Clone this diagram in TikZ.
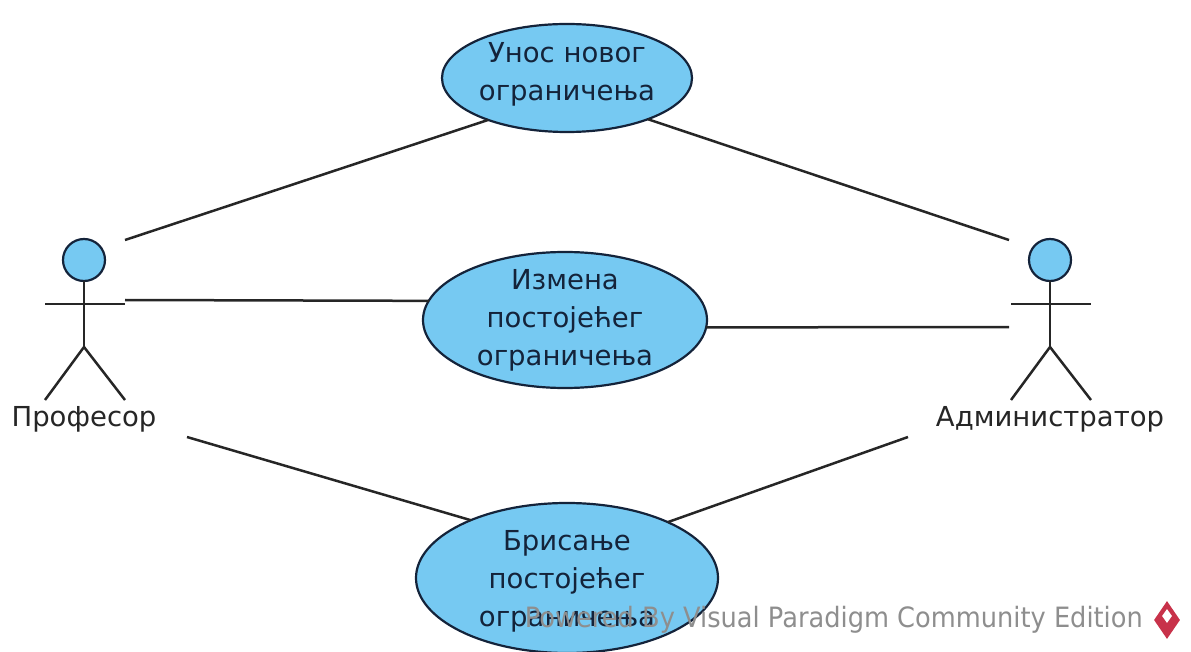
\documentclass[tikz,border=0pt]{standalone}
\usepackage{fontspec}
\setmainfont{DejaVu Sans}
\usetikzlibrary{shapes.geometric}
\definecolor{ucfill}{HTML}{76C9F2}
\definecolor{ucline}{HTML}{14233A}
\definecolor{wmgrey}{HTML}{8E8E8E}
\definecolor{wmred}{HTML}{C8324A}
\tikzset{
  usecase/.style={ellipse,draw=ucline,fill=ucfill,line width=2.2pt,inner sep=0pt,outer sep=0pt},
  uctext/.style={align=center,font=\fontsize{27.5}{38}\selectfont,text=ucline},
  actortext/.style={font=\fontsize{27.5}{32}\selectfont,text=black!85},
  limb/.style={draw=black!85,line width=2.5pt},
  assoc/.style={draw=black!85,line width=2.5pt},
  headshape/.style={circle,draw=ucline,fill=ucfill,line width=2.2pt,minimum size=42pt,inner sep=0pt,outer sep=0pt},
}
\begin{document}
\begin{tikzpicture}[x=1pt,y=-1pt]
\useasboundingbox (0,0) rectangle (1191,652);
% use cases
\node[usecase,minimum width=250pt,minimum height=108pt] (top) at (567,78) {};
\node[uctext] (toptext) at (567,74) {Унос новог\\ограничења};
\node[usecase,minimum width=284pt,minimum height=136pt] (mid) at (565,320) {};
\node[uctext] (midtext) at (565,320) {Измена\\постојећег\\ограничења};
\node[usecase,minimum width=302pt,minimum height=150pt] (bot) at (567,578) {};
\node[uctext] (bottext) at (567,581) {Брисање\\постојећег\\ограничења};
% left actor
\node[headshape] (lhead) at (84,260) {};
\coordinate (lhip) at (84,347);
\coordinate (larmL) at (45,304);
\coordinate (larmR) at (125,304);
\coordinate (llegL) at (45,400);
\coordinate (llegR) at (125,400);
\draw[limb] (lhead.south) -- (lhip);
\draw[limb] (larmL) -- (larmR);
\draw[limb] (llegL) -- (lhip) -- (llegR);
\node[actortext] (prof) at (84,419) {Професор};
% right actor
\node[headshape] (rhead) at (1050,260) {};
\coordinate (rhip) at (1050,347);
\coordinate (rarmL) at (1011,304);
\coordinate (rarmR) at (1091,304);
\coordinate (rlegL) at (1011,400);
\coordinate (rlegR) at (1091,400);
\draw[limb] (rhead.south) -- (rhip);
\draw[limb] (rarmL) -- (rarmR);
\draw[limb] (rlegL) -- (rhip) -- (rlegR);
\node[actortext] (admin) at (1050,419) {Администратор};
% connector ends at the actors
\coordinate (pa) at (125,240);
\coordinate (pb) at (125,300);
\coordinate (pc) at (187,437);
\coordinate (aa) at (1009,240);
\coordinate (ab) at (1009,327);
\coordinate (ac) at (908,437);
\draw[assoc] (pa) -- (top.208);
\draw[assoc] (aa) -- (top.-27.4);
\draw[assoc] (pb) -- (mid.172.2);
\draw[assoc] (ab) -- (mid.-3.8);
\draw[assoc] (pc) -- (bot.149);
\draw[assoc] (ac) -- (bot.29);
% watermark
\node[font=\fontsize{28}{32}\selectfont,text=wmgrey,anchor=east,inner sep=0pt,xscale=0.917] (wm) at (1143,620) {Powered By Visual Paradigm Community Edition};
\node[diamond,fill=wmred,minimum width=26pt,minimum height=38pt,inner sep=0pt] (logo) at (1167,620) {};
\node[diamond,fill=white,minimum width=10pt,minimum height=14pt,inner sep=0pt] (logoin) at (1167,616) {};
\end{tikzpicture}
\end{document}
